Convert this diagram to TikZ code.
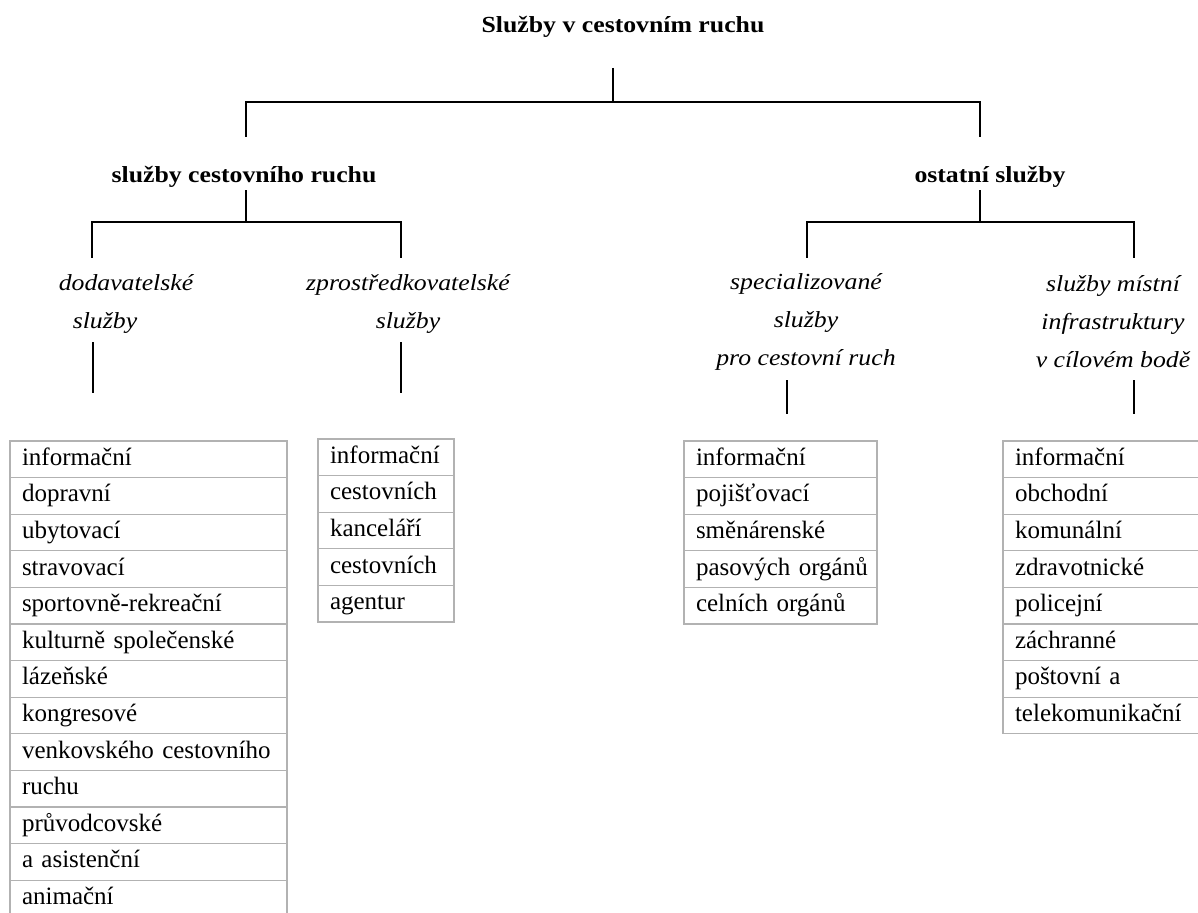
\documentclass[tikz,border=0pt]{standalone}
\usepackage{fontspec}
\setmainfont{Liberation Serif}
\newfontfamily\headfont{Liberation Serif}[FakeStretch=1.12]
\usetikzlibrary{positioning}

\begin{document}
\begin{tikzpicture}[x=1pt,y=-1pt,node distance=36.6pt,
                    head/.style={font=\headfont\fontsize{23}{38}\selectfont\bfseries},
                    sub/.style={font=\headfont\fontsize{23}{38}\selectfont\itshape,align=center},
                    cell/.style={draw=gray!60,line width=1.2pt,minimum height=36.6pt,
                                 inner xsep=12pt,inner ysep=0pt,text width=#1,align=left,
                                 text height=18pt,text depth=6pt,
                                 font=\fontsize{25}{30}\selectfont},
                    tree/.style={line width=1.2pt}]
  \useasboundingbox (0,0) rectangle (1198,912);

  \node[head] (root) at (623,27)  {Služby v cestovním ruchu};
  \node[head] (scr)  at (244,177) {služby cestovního ruchu};
  \node[head] (ost)  at (990,177) {ostatní služby};

  \node[sub] (dod) at (126,304)  {dodavatelské\\\hspace*{-42pt}služby};
  \node[sub] (zpr) at (408,304)  {zprostředkovatelské\\služby};
  \node[sub] (spe) at (806,322)  {specializované\\služby\\pro cestovní ruch};
  \node[sub] (mis) at (1113,322) {služby místní\\infrastruktury\\v cílovém bodě};

  \foreach \n/\x/\y in {r/613/68, j1/613/102, scr-t/246/137, ost-t/980/137,
                        scr-b/246/190, j2/246/222, dod-t/92/258, zpr-t/401/258,
                        ost-b/980/190, j3/980/222, spe-t/807/258, mis-t/1134/258,
                        dod-b/93/342, dod-e/93/393, zpr-b/401/342, zpr-e/401/393,
                        spe-b/787/380, spe-e/787/414, mis-b/1134/380, mis-e/1134/414}
    \coordinate (\n) at (\x,\y);

  \draw[tree] (r) -- (j1) -| (scr-t);
  \draw[tree] (j1) -| (ost-t);
  \draw[tree] (scr-b) -- (j2) -| (dod-t);
  \draw[tree] (j2) -| (zpr-t);
  \draw[tree] (ost-b) -- (j3) -| (spe-t);
  \draw[tree] (j3) -| (mis-t);
  \draw[tree] (dod-b) -- (dod-e);
  \draw[tree] (zpr-b) -- (zpr-e);
  \draw[tree] (spe-b) -- (spe-e);
  \draw[tree] (mis-b) -- (mis-e);

  \coordinate (d0) at (148.5,422.7);
  \foreach \t [count=\i, remember=\i as \p (initially 0)] in {informační,dopravní,
      ubytovací,stravovací,sportovně-rekreační,kulturně společenské,lázeňské,
      kongresové,venkovského cestovního,ruchu,průvodcovské,a asistenční,animační}
    \node[cell=253pt] (d\i) [below of=d\p] {\mbox{\t}};

  \coordinate (z0) at (386,420.7);
  \foreach \t [count=\i, remember=\i as \p (initially 0)] in {informační,cestovních,
      kanceláří,cestovních,agentur}
    \node[cell=112pt] (z\i) [below of=z\p] {\mbox{\t}};

  \coordinate (s0) at (780.5,422.7);
  \foreach \t [count=\i, remember=\i as \p (initially 0)] in {informační,pojišťovací,
      směnárenské,pasových orgánů,celních orgánů}
    \node[cell=169pt] (s\i) [below of=s\p] {\mbox{\t}};

  \coordinate (m0) at (1106.5,422.7);
  \foreach \t [count=\i, remember=\i as \p (initially 0)] in {informační,obchodní,
      komunální,zdravotnické,policejní,záchranné,poštovní a,telekomunikační}
    \node[cell=183pt] (m\i) [below of=m\p] {\mbox{\t}};
\end{tikzpicture}
\end{document}
